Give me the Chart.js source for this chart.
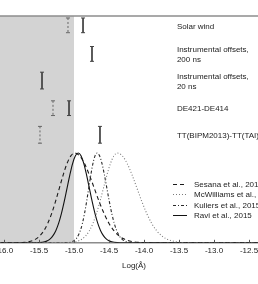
<!DOCTYPE html>
<html>
<head>
<meta charset="utf-8">
<script src="https://cdn.jsdelivr.net/npm/chart.js@4"></script>
<style>
  html, body { margin: 0; padding: 0; background: #fff; overflow: hidden; }
  #wrap { position: relative; width: 258px; height: 284px; overflow: hidden; }
  #chart { position: absolute; left: -40px; top: 0; }
</style>
</head>
<body>
<div id="wrap"><canvas id="chart" width="338" height="284" style="width:338px;height:284px"></canvas></div>
<script>
// Axis range and ticks (Log amplitude)
const tickValues = [-16.0, -15.5, -15.0, -14.5, -14.0, -13.5, -13.0, -12.5];
const xMin = -16.057;
const xMax = -12.229;
const yMax = 2.527;
const shadeEdge = -15.0;

// Amplitude distributions (normalised to peak 1)
const curveLabels = ['Sesana et al., 2016', 'McWilliams et al., 2014', 'Kuliers et al., 2015', 'Ravi et al., 2015'];

const sesanaX = [-16.05, -15.87, -15.76, -15.65, -15.54, -15.485, -15.43, -15.375, -15.32, -15.265, -15.21, -15.155, -15.10, -15.045, -14.99,
  -14.92, -14.85, -14.78, -14.71, -14.64, -14.57, -14.50, -14.43, -14.36, -14.29, -14.15, -14.01, -13.87, -12.3];
const sesanaY = [0, 0, 0.002, 0.011, 0.044, 0.080, 0.135, 0.216, 0.325, 0.458, 0.607, 0.755, 0.883, 0.969, 1,
  0.969, 0.883, 0.755, 0.607, 0.458, 0.325, 0.216, 0.135, 0.080, 0.044, 0.011, 0.002, 0, 0];

const mcwilliamsX = [-16.05, -15.18, -15.08, -14.98, -14.88, -14.83, -14.78, -14.73, -14.68, -14.63, -14.58, -14.53, -14.48, -14.43, -14.38,
  -14.31, -14.24, -14.17, -14.10, -14.03, -13.96, -13.89, -13.82, -13.75, -13.68, -13.54, -13.40, -13.26, -12.3];
const mcwilliamsY = [0, 0, 0.002, 0.011, 0.044, 0.080, 0.135, 0.216, 0.325, 0.458, 0.607, 0.755, 0.883, 0.969, 1,
  0.969, 0.883, 0.755, 0.607, 0.458, 0.325, 0.216, 0.135, 0.080, 0.044, 0.011, 0.002, 0, 0];

const kuliersX = [-16.05, -15.15, -15.09, -15.03, -14.97, -14.94, -14.91, -14.88, -14.85, -14.82, -14.79, -14.76, -14.73, -14.70, -14.67,
  -14.635, -14.60, -14.565, -14.53, -14.495, -14.46, -14.425, -14.39, -14.355, -14.32, -14.25, -14.18, -14.11, -12.3];
const kuliersY = [0, 0, 0.002, 0.011, 0.044, 0.080, 0.135, 0.216, 0.325, 0.458, 0.607, 0.755, 0.883, 0.969, 1,
  0.969, 0.883, 0.755, 0.607, 0.458, 0.325, 0.216, 0.135, 0.080, 0.044, 0.011, 0.002, 0, 0];

const raviX = [-16.05, -15.58, -15.50, -15.42, -15.38, -15.34, -15.30, -15.26, -15.22, -15.18, -15.14, -15.10, -15.06, -15.02, -14.98, -14.94,
  -14.90, -14.86, -14.82, -14.78, -14.74, -14.70, -14.66, -14.62, -14.58, -14.54, -14.50, -14.46, -14.38, -14.30, -12.3];
const raviY = [0, 0, 0.002, 0.011, 0.023, 0.044, 0.080, 0.135, 0.216, 0.325, 0.458, 0.607, 0.755, 0.883, 0.969, 1,
  0.969, 0.883, 0.755, 0.607, 0.458, 0.325, 0.216, 0.135, 0.080, 0.044, 0.023, 0.011, 0.002, 0, 0];

// Noise budget rows (error bar extents)
const barLabels = ['Solar wind', ['Instrumental offsets,', '200 ns'], ['Instrumental offsets,', '20 ns'], 'DE421-DE414', 'TT(BIPM2013)-TT(TAI)'];
const solidBarX = [-14.871, -14.743, -15.457, -15.071, -14.629];
const dashedBarX = [-15.086, null, null, -15.300, -15.486];
const barTop = [2.505, 2.187, 1.901, 1.582, 1.297];
const barBottom = [2.341, 2.022, 1.714, 1.418, 1.110];
const labelX = -13.53;

const FONT = "'Liberation Sans', Arial, sans-serif";
const INK = '#222222';

function zip(xs, ys) {
  return xs.map((x, i) => ({ x, y: ys[i] }));
}

function curveDataset(label, xs, ys, color, dash) {
  return {
    label,
    data: zip(xs, ys),
    borderColor: color,
    backgroundColor: 'transparent',
    borderWidth: 1.1,
    borderDash: dash,
    pointRadius: 0,
    cubicInterpolationMode: 'monotone',
    fill: false,
    isCurve: true,
  };
}

function barDataset(x, i, color, dash) {
  return {
    label: 'bar',
    data: [{ x, y: barTop[i] }, { x, y: barBottom[i] }],
    borderColor: color,
    borderWidth: 1,
    borderDash: dash,
    pointStyle: 'line',
    pointRadius: 2,
    pointBorderColor: color,
    pointBorderWidth: 1,
    pointHoverRadius: 2,
    fill: false,
  };
}

const datasets = [
  curveDataset(curveLabels[0], sesanaX, sesanaY, '#1a1a1a', [4, 3]),
  curveDataset(curveLabels[1], mcwilliamsX, mcwilliamsY, '#7a7a7a', [1, 2]),
  curveDataset(curveLabels[2], kuliersX, kuliersY, '#2a2a2a', [3, 2, 1, 2]),
  curveDataset(curveLabels[3], raviX, raviY, '#111111', []),
];
solidBarX.forEach((x, i) => datasets.push(barDataset(x, i, '#444444', [])));
dashedBarX.forEach((x, i) => {
  if (x !== null) datasets.push(barDataset(x, i, '#666666', [2, 2]));
});

/**
 * Grey band below the shade edge
 */
const shadePlugin = {
  id: 'shade',
  beforeDraw(chart) {
    const { ctx, chartArea, scales } = chart;
    const edge = scales.x.getPixelForValue(shadeEdge);
    ctx.save();
    ctx.fillStyle = '#d3d3d3';
    ctx.fillRect(chartArea.left, chartArea.top, edge - chartArea.left, chartArea.bottom - chartArea.top);
    ctx.restore();
  },
};

/**
 * Frame line, inward ticks, row labels and curve legend
 */
const decorPlugin = {
  id: 'decor',
  afterDraw(chart) {
    const { ctx, chartArea, scales } = chart;
    const xs = scales.x;
    const ys = scales.y;
    ctx.save();

    // top spine
    ctx.strokeStyle = '#8c8c8c';
    ctx.lineWidth = 1.5;
    ctx.beginPath();
    ctx.moveTo(chartArea.left, chartArea.top);
    ctx.lineTo(chartArea.right, chartArea.top);
    ctx.stroke();

    // inward tick marks
    ctx.strokeStyle = '#555';
    ctx.lineWidth = 1;
    xs.ticks.forEach((t) => {
      const px = Math.round(xs.getPixelForValue(t.value)) + 0.5;
      ctx.beginPath();
      ctx.moveTo(px, chartArea.bottom);
      ctx.lineTo(px, chartArea.bottom - 3);
      ctx.stroke();
    });

    // row labels
    ctx.fillStyle = INK;
    ctx.font = `8px ${FONT}`;
    ctx.textBaseline = 'middle';
    ctx.textAlign = 'left';
    const lx = xs.getPixelForValue(labelX);
    barLabels.forEach((label, i) => {
      const cy = ys.getPixelForValue((barTop[i] + barBottom[i]) / 2);
      const lines = Array.isArray(label) ? label : [label];
      const lh = 10;
      lines.forEach((line, j) => {
        ctx.fillText(line, lx, cy + 1 + (j - (lines.length - 1) / 2) * lh);
      });
    });

    // legend for the curves
    const legendTop = chartArea.top + 168;
    const rowH = 10.4;
    const sampleLeft = chartArea.left + 173;
    chart.data.datasets.filter((d) => d.isCurve).forEach((d, i) => {
      const y = Math.round(legendTop + i * rowH) + 0.5;
      ctx.strokeStyle = d.borderColor;
      ctx.lineWidth = 1;
      ctx.setLineDash(d.borderDash);
      ctx.beginPath();
      ctx.moveTo(sampleLeft, y);
      ctx.lineTo(sampleLeft + 14, y);
      ctx.stroke();
      ctx.setLineDash([]);
      ctx.fillStyle = INK;
      ctx.fillText(d.label, sampleLeft + 21, y);
    });

    ctx.restore();
  },
};

new Chart(document.getElementById('chart'), {
  type: 'line',
  data: { datasets },
  options: {
    responsive: false,
    animation: false,
    events: [],
    layout: { padding: { left: 40, right: 30, top: 16, bottom: 13 } },
    plugins: {
      legend: { display: false },
      tooltip: { enabled: false },
    },
    scales: {
      x: {
        type: 'linear',
        min: xMin,
        max: xMax,
        afterBuildTicks: (axis) => {
          axis.ticks = tickValues.map((v) => ({ value: v }));
        },
        grid: { display: false, drawTicks: false },
        border: { display: true, color: '#8c8c8c', width: 1.5 },
        ticks: {
          padding: 3,
          color: INK,
          autoSkip: false,
          maxRotation: 0,
          font: { size: 8, family: FONT },
          callback: (v) => Number(v).toFixed(1),
        },
        title: {
          display: true,
          text: 'Log(Å)',
          color: INK,
          padding: { top: 3, bottom: 0 },
          font: { size: 8, family: FONT },
        },
      },
      y: {
        type: 'linear',
        display: false,
        min: 0,
        max: yMax,
      },
    },
  },
  plugins: [shadePlugin, decorPlugin],
});
</script>
</body>
</html>
